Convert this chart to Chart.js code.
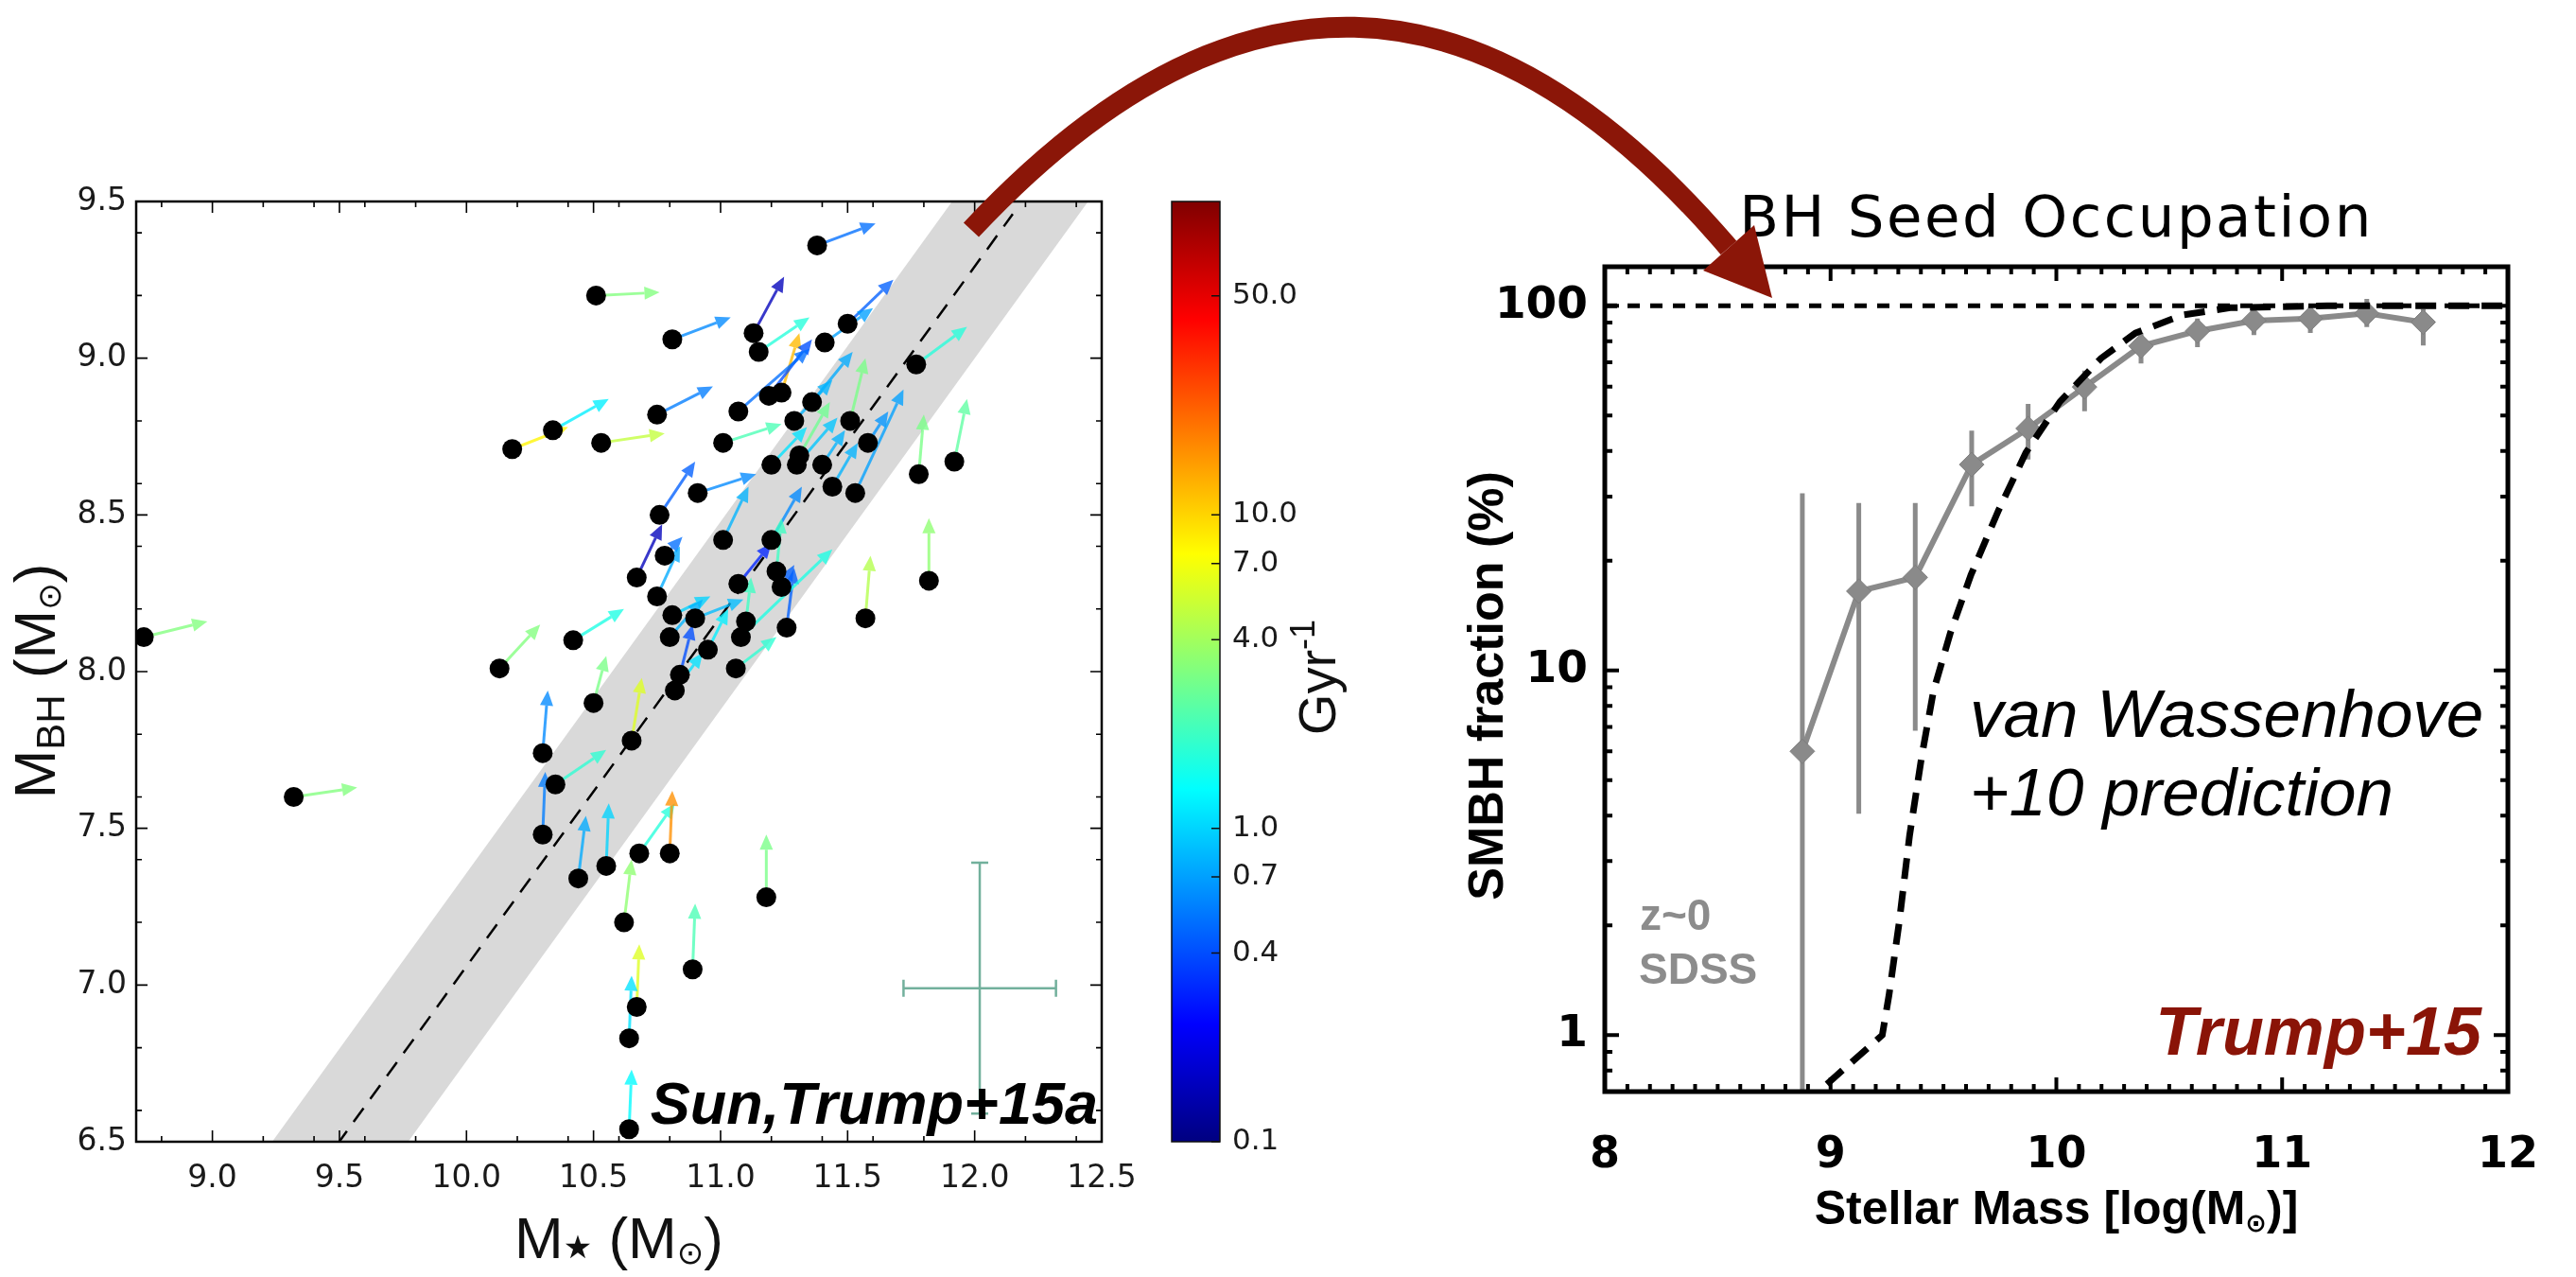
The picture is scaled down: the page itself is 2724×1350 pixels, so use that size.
<!DOCTYPE html>
<html>
<head>
<meta charset="utf-8">
<script src="https://cdn.jsdelivr.net/npm/chart.js@4.4.1/dist/chart.umd.min.js"></script>
<style>
html, body { margin: 0; padding: 0; background: #fff; }
#Page { position: relative; width: 2724px; height: 1350px; overflow: hidden; background: #fff; }
.box { position: absolute; top: 0; height: 1350px; }
#MassBox { left: 0; width: 1240px; }
#ColorBarBox { left: 1200px; width: 300px; }
#OccupationBox { left: 1470px; width: 1254px; }
#BigArrow { position: absolute; left: 0; top: 0; pointer-events: none; }
</style>
</head>
<body>
<div id="Page">
	<div class="box" id="MassBox"><canvas id="MassPlot"></canvas></div>
	<div class="box" id="ColorBarBox"><canvas id="ColorBar"></canvas></div>
	<div class="box" id="OccupationBox"><canvas id="Occupation"></canvas></div>
	<svg id="BigArrow" width="2724" height="1350">
		<path d="M1027 243 Q1437 -195 1828 262" stroke="#8b1608" stroke-width="22" fill="none" />
		<polygon points="1874,315 1801,286 1855,238" fill="#8b1608" />
	</svg>
</div>
<script>
// ---- left panel: M_BH vs M_star, arrows = growth direction, colour = rate (Gyr^-1)
const galaxyMstar = [
	11.38, 10.51, 10.81, 11.13, 11.15, 11.50, 11.41, 11.77, 11.24, 11.19,
	11.07, 10.75, 10.34, 10.18, 10.53, 11.01, 11.36, 11.29, 11.51, 11.58,
	11.31, 11.30, 11.20, 11.40, 11.78, 11.92, 11.44, 11.53, 10.91, 10.76,
	11.01, 11.20, 10.78, 10.67, 10.75, 11.22, 11.07, 11.24, 11.57, 11.82,
	10.81, 10.90, 11.10, 11.26, 10.80, 11.08, 10.95, 8.73, 10.42, 10.13,
	10.84, 11.06, 10.50, 10.82, 10.30, 10.65, 10.35, 10.30, 10.44, 10.55,
	10.68, 10.80, 9.32, 11.18, 10.62, 10.89, 10.67, 10.64, 10.64,
];
const galaxyMbh = [
	9.36, 9.20, 9.06, 9.08, 9.02, 9.11, 9.05, 8.98, 8.89, 8.88,
	8.83, 8.82, 8.77, 8.71, 8.73, 8.73, 8.86, 8.80, 8.80, 8.73,
	8.69, 8.66, 8.66, 8.66, 8.63, 8.67, 8.59, 8.57, 8.57, 8.50,
	8.42, 8.42, 8.37, 8.30, 8.24, 8.32, 8.28, 8.27, 8.17, 8.29,
	8.18, 8.17, 8.16, 8.14, 8.11, 8.11, 8.07, 8.11, 8.10, 8.01,
	7.99, 8.01, 7.90, 7.94, 7.74, 7.78, 7.64, 7.48, 7.34, 7.38,
	7.42, 7.42, 7.60, 7.28, 7.20, 7.05, 6.93, 6.83, 6.54,
];
// where each growth arrow ends
const arrowMstar = [
	11.61, 10.76, 11.04, 11.25, 11.35, 11.68, 11.60, 11.97, 11.31, 11.36,
	11.35, 10.97, 10.56, 10.40, 10.78, 11.24, 11.52, 11.44, 11.57, 11.66,
	11.43, 11.46, 11.34, 11.49, 11.80, 11.97, 11.54, 11.72, 11.14, 10.90,
	11.11, 11.32, 10.85, 10.77, 10.84, 11.24, 11.20, 11.29, 11.59, 11.82,
	10.96, 11.09, 11.12, 11.29, 10.93, 11.44, 11.03, 8.98, 10.62, 10.29,
	10.89, 11.22, 10.55, 10.93, 10.32, 10.69, 10.55, 10.31, 10.47, 10.56,
	10.82, 10.81, 9.57, 11.18, 10.65, 10.90, 10.68, 10.65, 10.65,
];
const arrowMbh = [
	9.43, 9.21, 9.13, 9.26, 9.13, 9.25, 9.16, 9.10, 9.08, 9.06,
	9.03, 8.91, 8.87, 8.78, 8.76, 8.79, 9.02, 8.93, 9.00, 8.83,
	8.86, 8.81, 8.78, 8.77, 8.82, 8.87, 8.73, 8.90, 8.63, 8.67,
	8.59, 8.59, 8.43, 8.47, 8.40, 8.49, 8.41, 8.34, 8.37, 8.49,
	8.24, 8.23, 8.30, 8.33, 8.23, 8.39, 8.20, 8.16, 8.20, 8.15,
	8.15, 8.11, 8.05, 8.06, 7.94, 7.98, 7.75, 7.68, 7.54, 7.58,
	7.58, 7.62, 7.63, 7.48, 7.40, 7.26, 7.13, 7.03, 6.73,
];
const growthRate = [
	0.5, 3.2, 0.6, 0.15, 1.7, 0.45, 0.7, 1.7, 12, 0.4,
	0.5, 0.55, 1.2, 8, 5, 2.2, 0.75, 0.8, 3.0, 0.65,
	2.8, 0.9, 1.1, 0.8, 3.0, 2.5, 0.8, 0.7, 0.6, 0.45,
	0.8, 0.6, 0.5, 0.15, 0.75, 2.0, 0.3, 0.45, 4.5, 3.5,
	1.0, 0.85, 2.0, 0.45, 0.8, 1.6, 1.2, 3.2, 1.6, 3.2,
	0.4, 1.8, 3.0, 1.1, 0.6, 6, 1.8, 0.55, 0.75, 1.0,
	1.7, 16, 3.2, 3.0, 3.5, 2.2, 6, 1.1, 1.3,
];
const relationMstar = [9.49, 12.15];
const relationMbh = [6.49, 9.46];
const bandMstar = [8.7, 12.5];
const bandHigh = [5.90, 10.16];
const bandLow = [5.30, 9.56];
const typicalErrMstar = [12.02];
const typicalErrMbh = [6.99];
const typicalErrX = [0.30];
const typicalErrY = [0.40];
const mstarTicks = [9.0, 9.5, 10.0, 10.5, 11.0, 11.5, 12.0, 12.5];
const mbhTicks = [6.5, 7.0, 7.5, 8.0, 8.5, 9.0, 9.5];

// ---- colour bar
const rateTicks = [0.1, 0.4, 0.7, 1.0, 4.0, 7.0, 10.0, 50.0];
const rateMin = 0.1;
const rateMax = 100;

// ---- right panel: BH seed occupation
const occMass = [8.875, 9.125, 9.375, 9.625, 9.875, 10.125, 10.375, 10.625, 10.875, 11.125, 11.375, 11.625];
const occFrac = [6.0, 16.5, 18.0, 36.7, 46.1, 59.9, 77.6, 85.3, 91.1, 92.3, 95.3, 90.2];
const occFracHigh = [30.6, 28.8, 28.8, 45.5, 53.8, 66.5, 84.2, 92.3, 96.6, 99.8, 104.4, 98.0];
const occFracLow = [0.3, 4.05, 6.84, 28.2, 37.9, 51.4, 69.5, 77.0, 83.1, 84.2, 87.4, 77.9];
const predMass = [8.90, 8.955, 9.229, 9.259, 9.304, 9.35, 9.404, 9.456, 9.531, 9.622, 9.744, 9.865, 10.016, 10.198, 10.35, 10.56, 10.77, 11.2, 12.0];
const predFrac = [0.62, 0.708, 1.0, 1.29, 2.04, 3.53, 5.83, 8.79, 12.7, 18.3, 27.5, 39.6, 54.6, 71.8, 84.2, 94.4, 98.8, 100, 100];
const fullMass = [8, 12];
const fullFrac = [100, 100];
const occMassTicks = [8, 9, 10, 11, 12];
const occFracTicks = [1, 10, 100];

const SANS = "'Liberation Sans', Arial, sans-serif";
const DEJAVU = "'DejaVu Sans', sans-serif";

Chart.defaults.animation = false;
Chart.defaults.responsive = true;
Chart.defaults.maintainAspectRatio = false;
Chart.defaults.events = [];
Chart.defaults.plugins.legend.display = false;
Chart.defaults.plugins.tooltip.enabled = false;

function jet(t) {
	const c = (v) => Math.max(0, Math.min(1, v));
	return [c(1.5 - Math.abs(4 * t - 3)), c(1.5 - Math.abs(4 * t - 2)), c(1.5 - Math.abs(4 * t - 1))];
}

function rateColor(v, alpha) {
	const t = (Math.log10(v) - Math.log10(rateMin)) / (Math.log10(rateMax) - Math.log10(rateMin));
	const rgb = jet(t).map((q) => Math.round(q * 255));
	return "rgba(" + rgb.join(",") + "," + alpha + ")";
}

function near(v, list) {
	return list.some((m) => Math.abs(m - v) < 1e-6);
}

// text made of pieces (for sub/superscripts); baseline at y, centred on x
function drawRich(ctx, parts, x, y, angle, spacing) {
	ctx.save();
	ctx.translate(x, y);
	if (angle) ctx.rotate(angle);
	ctx.textAlign = "left";
	ctx.textBaseline = "alphabetic";
	if (spacing) ctx.letterSpacing = spacing;
	let total = 0;
	parts.forEach((p) => {
		ctx.font = p.font;
		p.w = ctx.measureText(p.text).width;
		total += p.w;
	});
	let cx = -total / 2;
	parts.forEach((p) => {
		ctx.font = p.font;
		ctx.fillStyle = p.color || "#111";
		ctx.fillText(p.text, cx, p.shift || 0);
		cx += p.w;
	});
	ctx.restore();
}

function drawText(ctx, text, x, y, font, color, align) {
	ctx.save();
	ctx.font = font;
	ctx.fillStyle = color;
	ctx.textAlign = align || "left";
	ctx.textBaseline = "alphabetic";
	ctx.fillText(text, x, y);
	ctx.restore();
}

function inwardTicks(chart, xMajor, yMajor, majorLen, minorLen, width, boxWidth) {
	const ctx = chart.ctx;
	const { left, right, top, bottom } = chart.chartArea;
	const xs = chart.scales.x;
	const ys = chart.scales.y;
	ctx.save();
	ctx.strokeStyle = "#000";
	ctx.lineWidth = width;
	ctx.beginPath();
	xs.ticks.forEach((t) => {
		const px = xs.getPixelForValue(t.value);
		const len = near(t.value, xMajor) ? majorLen : minorLen;
		ctx.moveTo(px, bottom);
		ctx.lineTo(px, bottom - len);
		ctx.moveTo(px, top);
		ctx.lineTo(px, top + len);
	});
	ys.ticks.forEach((t) => {
		const py = ys.getPixelForValue(t.value);
		const len = near(t.value, yMajor) ? majorLen : minorLen;
		ctx.moveTo(left, py);
		ctx.lineTo(left + len, py);
		ctx.moveTo(right, py);
		ctx.lineTo(right - len, py);
	});
	ctx.stroke();
	ctx.lineWidth = boxWidth;
	ctx.strokeRect(left, top, right - left, bottom - top);
	ctx.restore();
}

// ================= left panel =================
function mass_ticks(lo, hi, majors) {
	const out = [];
	for (let k = Math.ceil(lo * 10 - 1e-6); k <= Math.floor(hi * 10 + 1e-6); k++) {
		const v = Math.round(k) / 10;
		if (k % 2 === 0 || near(v, majors)) out.push({ value: v });
	}
	return out;
}

const massPlotExtras = {
	id: "massPlotExtras",
	afterDatasetDraw(chart, args) {
		if (args.index !== 1) return;
		const ctx = chart.ctx;
		const xs = chart.scales.x;
		const ys = chart.scales.y;
		const ca = chart.chartArea;
		ctx.save();
		ctx.beginPath();
		ctx.rect(ca.left, ca.top, ca.right - ca.left, ca.bottom - ca.top);
		ctx.clip();
		// growth arrows
		for (let i = 0; i < galaxyMstar.length; i++) {
			const x0 = xs.getPixelForValue(galaxyMstar[i]);
			const y0 = ys.getPixelForValue(galaxyMbh[i]);
			const x1 = xs.getPixelForValue(arrowMstar[i]);
			const y1 = ys.getPixelForValue(arrowMbh[i]);
			const len = Math.hypot(x1 - x0, y1 - y0);
			const ux = (x1 - x0) / len;
			const uy = (y1 - y0) / len;
			const head = 16;
			const half = 7;
			const col = rateColor(growthRate[i], 0.78);
			ctx.strokeStyle = col;
			ctx.fillStyle = col;
			ctx.lineWidth = 3;
			ctx.beginPath();
			ctx.moveTo(x0, y0);
			ctx.lineTo(x1 - ux * head, y1 - uy * head);
			ctx.stroke();
			ctx.beginPath();
			ctx.moveTo(x1, y1);
			ctx.lineTo(x1 - ux * head - uy * half, y1 - uy * head + ux * half);
			ctx.lineTo(x1 - ux * head + uy * half, y1 - uy * head - ux * half);
			ctx.closePath();
			ctx.fill();
		}
		// typical error bar
		ctx.strokeStyle = "#72b09c";
		ctx.lineWidth = 2.5;
		for (let i = 0; i < typicalErrMstar.length; i++) {
			const cx = xs.getPixelForValue(typicalErrMstar[i]);
			const cy = ys.getPixelForValue(typicalErrMbh[i]);
			const xl = xs.getPixelForValue(typicalErrMstar[i] - typicalErrX[i]);
			const xr = xs.getPixelForValue(typicalErrMstar[i] + typicalErrX[i]);
			const yt = ys.getPixelForValue(typicalErrMbh[i] + typicalErrY[i]);
			const yb = ys.getPixelForValue(typicalErrMbh[i] - typicalErrY[i]);
			ctx.beginPath();
			ctx.moveTo(xl, cy); ctx.lineTo(xr, cy);
			ctx.moveTo(cx, yt); ctx.lineTo(cx, yb);
			ctx.moveTo(xl, cy - 9); ctx.lineTo(xl, cy + 9);
			ctx.moveTo(xr, cy - 9); ctx.lineTo(xr, cy + 9);
			ctx.moveTo(cx - 9, yt); ctx.lineTo(cx + 9, yt);
			ctx.moveTo(cx - 9, yb); ctx.lineTo(cx + 9, yb);
			ctx.stroke();
		}
		ctx.restore();
	},
	afterDraw(chart) {
		const ctx = chart.ctx;
		const ca = chart.chartArea;
		inwardTicks(chart, mstarTicks, mbhTicks, 12, 6, 1.6, 2.5);
		drawText(ctx, "Sun,Trump+15a", ca.right - 4, 1188, "italic bold 63px " + SANS, "#000", "right");
		const big = "62px " + SANS;
		const small = "42px " + SANS;
		drawRich(ctx, [
			{ text: "M", font: big },
			{ text: "\u2605", font: "34px " + DEJAVU },
			{ text: " (M", font: big },
			{ text: "\u2299", font: "34px " + DEJAVU, shift: 6 },
			{ text: ")", font: big },
		], (ca.left + ca.right) / 2, 1330, 0);
		drawRich(ctx, [
			{ text: "M", font: big },
			{ text: "BH", font: small, shift: 10 },
			{ text: " (M", font: big },
			{ text: "\u2299", font: "34px " + DEJAVU, shift: 6 },
			{ text: ")", font: big },
		], 58, 720, -Math.PI / 2);
	},
};

new Chart(document.getElementById("MassPlot"), {
	type: "line",
	data: {
		datasets: [
			{
				label: "galaxies",
				data: galaxyMstar.map((x, i) => ({ x: x, y: galaxyMbh[i] })),
				showLine: false,
				pointRadius: 10.5,
				pointBackgroundColor: "#000",
				pointBorderWidth: 0,
			},
			{
				label: "relation",
				data: relationMstar.map((x, i) => ({ x: x, y: relationMbh[i] })),
				borderColor: "#000",
				borderWidth: 2.5,
				borderDash: [18, 12],
				pointRadius: 0,
			},
			{
				label: "scatter high",
				data: bandMstar.map((x, i) => ({ x: x, y: bandHigh[i] })),
				borderWidth: 0,
				pointRadius: 0,
				fill: 3,
				backgroundColor: "#d9d9d9",
			},
			{
				label: "scatter low",
				data: bandMstar.map((x, i) => ({ x: x, y: bandLow[i] })),
				borderWidth: 0,
				pointRadius: 0,
			},
		],
	},
	options: {
		layout: { padding: { left: 0, top: 213, right: 75, bottom: 0 } },
		scales: {
			x: {
				type: "linear",
				min: 8.7,
				max: 12.5,
				bounds: "data",
				afterFit: (s) => { s.height = 143; },
				afterBuildTicks: (s) => { s.ticks = mass_ticks(8.7, 12.5, mstarTicks); },
				grid: { display: false, drawTicks: false },
				border: { display: false },
				ticks: {
					autoSkip: false,
					maxRotation: 0,
					padding: 20,
					color: "#1a1a1a",
					font: { family: DEJAVU, size: 33 },
					callback: (v) => (near(v, mstarTicks) ? Number(v).toFixed(1) : ""),
				},
			},
			y: {
				type: "linear",
				min: 6.5,
				max: 9.5,
				bounds: "data",
				afterFit: (s) => { s.width = 144; },
				afterBuildTicks: (s) => { s.ticks = mass_ticks(6.5, 9.5, mbhTicks); },
				grid: { display: false, drawTicks: false },
				border: { display: false },
				ticks: {
					autoSkip: false,
					padding: 10,
					color: "#1a1a1a",
					font: { family: DEJAVU, size: 33 },
					callback: (v) => (near(v, mbhTicks) ? Number(v).toFixed(1) : ""),
				},
			},
		},
	},
	plugins: [massPlotExtras],
});

// ================= colour bar =================
function jetGradient(chart) {
	const ca = chart.chartArea;
	if (!ca) return "#888";
	const g = chart.ctx.createLinearGradient(0, ca.bottom, 0, ca.top);
	[0, 0.125, 0.375, 0.625, 0.875, 1].forEach((t) => {
		const rgb = jet(t).map((q) => Math.round(q * 255));
		g.addColorStop(t, "rgb(" + rgb.join(",") + ")");
	});
	return g;
}

const colorBarExtras = {
	id: "colorBarExtras",
	afterDraw(chart) {
		const ctx = chart.ctx;
		const ca = chart.chartArea;
		const ys = chart.scales.y;
		ctx.save();
		ctx.strokeStyle = "#111";
		ctx.lineWidth = 1.5;
		ctx.strokeRect(ca.left, ca.top, ca.right - ca.left, ca.bottom - ca.top);
		ctx.beginPath();
		rateTicks.forEach((v) => {
			const py = ys.getPixelForValue(v);
			ctx.moveTo(ca.right, py);
			ctx.lineTo(ca.right - 9, py);
		});
		ctx.stroke();
		ctx.restore();
		drawRich(ctx, [
			{ text: "Gyr", font: "56px " + SANS },
			{ text: "-1", font: "36px " + SANS, shift: -22 },
		], 212, 716, -Math.PI / 2);
	},
};

new Chart(document.getElementById("ColorBar"), {
	type: "bar",
	data: {
		labels: ["rate"],
		datasets: [{
			data: [[rateMin, rateMax]],
			backgroundColor: (c) => jetGradient(c.chart),
			borderWidth: 0,
			barPercentage: 1,
			categoryPercentage: 1,
		}],
	},
	options: {
		layout: { padding: { left: 39, top: 213, right: 0, bottom: 143 } },
		scales: {
			x: { display: false },
			y: {
				type: "logarithmic",
				position: "right",
				min: rateMin,
				max: rateMax,
				bounds: "data",
				afterFit: (s) => { s.width = 210; },
				afterBuildTicks: (s) => { s.ticks = rateTicks.map((v) => ({ value: v })); },
				grid: { display: false, drawTicks: false },
				border: { display: false },
				ticks: {
					autoSkip: false,
					padding: 13,
					color: "#1a1a1a",
					font: { family: DEJAVU, size: 31 },
					callback: (v) => Number(v).toFixed(1),
				},
			},
		},
	},
	plugins: [colorBarExtras],
});

// ================= right panel =================
function occ_mass_ticks() {
	const out = [];
	for (let k = 80; k <= 120; k++) out.push({ value: k / 10 });
	return out;
}

function occ_frac_ticks(lo, hi) {
	const out = [];
	[0.1, 1, 10, 100].forEach((d) => {
		for (let m = 1; m <= 9; m++) {
			const v = Math.round(m * d * 1000) / 1000;
			if (v >= lo && v <= hi) out.push({ value: v });
		}
	});
	return out;
}

const occupationExtras = {
	id: "occupationExtras",
	beforeDatasetsDraw(chart) {
		const ctx = chart.ctx;
		const ca = chart.chartArea;
		const xs = chart.scales.x;
		const ys = chart.scales.y;
		ctx.save();
		ctx.beginPath();
		ctx.rect(ca.left, ca.top, ca.right - ca.left, ca.bottom - ca.top);
		ctx.clip();
		ctx.strokeStyle = "#8a8a8a";
		ctx.lineWidth = 5;
		ctx.beginPath();
		occMass.forEach((m, i) => {
			const px = xs.getPixelForValue(m);
			ctx.moveTo(px, ys.getPixelForValue(occFracHigh[i]));
			ctx.lineTo(px, ys.getPixelForValue(occFracLow[i]));
		});
		ctx.stroke();
		ctx.restore();
	},
	afterDraw(chart) {
		const ctx = chart.ctx;
		const ca = chart.chartArea;
		const off = 1470;
		inwardTicks(chart, occMassTicks, occFracTicks, 15, 8, 4, 5);
		drawRich(ctx, [
			{ text: "BH Seed Occupation", font: "61px " + DEJAVU, color: "#000" },
		], (ca.left + ca.right) / 2, 250, 0, "2.5px");
		drawRich(ctx, [
			{ text: "Stellar Mass [log(M", font: "bold 50px " + SANS, color: "#000" },
			{ text: "\u2299", font: "bold 27px " + DEJAVU, color: "#000", shift: 8 },
			{ text: ")]", font: "bold 50px " + SANS, color: "#000" },
		], (ca.left + ca.right) / 2, 1294, 0);
		drawRich(ctx, [
			{ text: "SMBH fraction (%)", font: "bold 52px " + SANS, color: "#000" },
		], 1589 - off, 725, -Math.PI / 2);
		drawText(ctx, "van Wassenhove", 2083 - off, 779, "italic 71px " + SANS, "#000");
		drawText(ctx, "+10 prediction", 2083 - off, 862, "italic 71px " + SANS, "#000");
		drawText(ctx, "z~0", 1734 - off, 983, "bold 46px " + SANS, "#8c8c8c");
		drawText(ctx, "SDSS", 1733 - off, 1040, "bold 46px " + SANS, "#8c8c8c");
		drawText(ctx, "Trump+15", 2624 - off, 1115, "italic bold 72px " + SANS, "#8a1407", "right");
	},
};

new Chart(document.getElementById("Occupation"), {
	type: "line",
	data: {
		datasets: [
			{
				label: "van Wassenhove+10",
				data: predMass.map((x, i) => ({ x: x, y: predFrac[i] })),
				borderColor: "#000",
				borderWidth: 7,
				borderDash: [22, 13],
				pointRadius: 0,
			},
			{
				label: "100%",
				data: fullMass.map((x, i) => ({ x: x, y: fullFrac[i] })),
				borderColor: "#000",
				borderWidth: 5,
				borderDash: [13, 11],
				pointRadius: 0,
			},
			{
				label: "SDSS",
				data: occMass.map((x, i) => ({ x: x, y: occFrac[i] })),
				borderColor: "#8a8a8a",
				borderWidth: 6,
				pointStyle: "rectRot",
				pointRadius: 13,
				pointBackgroundColor: "#8a8a8a",
				pointBorderColor: "#7d7d7d",
				pointBorderWidth: 1,
			},
		],
	},
	options: {
		layout: { padding: { left: 0, top: 282, right: 47, bottom: 0 } },
		scales: {
			x: {
				type: "linear",
				min: 8,
				max: 12,
				bounds: "data",
				afterFit: (s) => { s.height = 196; },
				afterBuildTicks: (s) => { s.ticks = occ_mass_ticks(); },
				grid: { display: false, drawTicks: false },
				border: { display: false },
				ticks: {
					autoSkip: false,
					maxRotation: 0,
					padding: 40,
					color: "#000",
					font: { family: DEJAVU, size: 46, weight: "bold" },
					callback: (v) => (near(v, occMassTicks) ? String(Math.round(v)) : ""),
				},
			},
			y: {
				type: "logarithmic",
				min: 0.7,
				max: 128,
				bounds: "data",
				afterFit: (s) => { s.width = 227; },
				afterBuildTicks: (s) => { s.ticks = occ_frac_ticks(0.7, 128); },
				grid: { display: false, drawTicks: false },
				border: { display: false },
				ticks: {
					autoSkip: false,
					padding: 18,
					color: "#000",
					font: { family: DEJAVU, size: 47, weight: "bold" },
					callback: (v) => (near(v, occFracTicks) ? String(v) : ""),
				},
			},
		},
	},
	plugins: [occupationExtras],
});
</script>
</body>
</html>
